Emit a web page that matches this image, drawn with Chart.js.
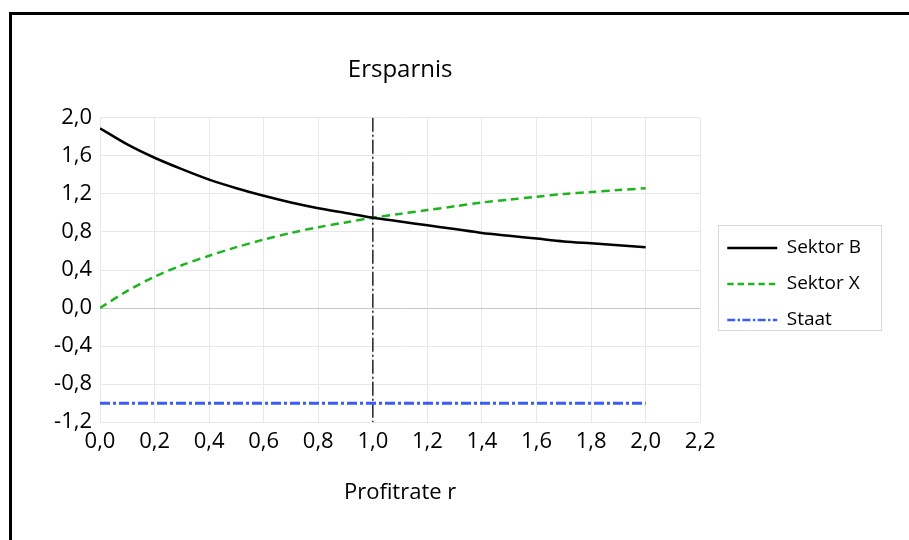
<!DOCTYPE html>
<html>
<head>
<meta charset="utf-8">
<script src="https://cdn.jsdelivr.net/npm/chart.js@4/dist/chart.umd.min.js"></script>
<style>
  html, body { margin: 0; padding: 0; background: #fff; }
  #wrap { width: 909px; height: 540px; position: relative; }
</style>
</head>
<body>
<div id="wrap"><canvas id="erspChart"></canvas></div>
<script>
// Profitrate r (x values)
const rates = [0.0, 0.1, 0.2, 0.3, 0.4, 0.5, 0.6, 0.7, 0.8, 0.9, 1.0,
               1.1, 1.2, 1.3, 1.4, 1.5, 1.6, 1.7, 1.8, 1.9, 2.0];
const sektorB = [1.89, 1.72, 1.58, 1.46, 1.35, 1.26, 1.18, 1.11, 1.05, 1.00, 0.95,
                 0.91, 0.87, 0.83, 0.79, 0.76, 0.73, 0.70, 0.68, 0.66, 0.64];
const sektorX = [0.00, 0.18, 0.33, 0.45, 0.55, 0.64, 0.72, 0.79, 0.85, 0.90, 0.95,
                 0.99, 1.03, 1.07, 1.11, 1.14, 1.17, 1.20, 1.22, 1.24, 1.26];
const staat = [-1.0, -1.0, -1.0, -1.0, -1.0, -1.0, -1.0, -1.0, -1.0, -1.0, -1.0,
               -1.0, -1.0, -1.0, -1.0, -1.0, -1.0, -1.0, -1.0, -1.0, -1.0];
// vertical marker at r = 1
const markerX = [1.0, 1.0];
const markerY = [2.0, -1.2];

const pts = (xs, ys) => xs.map((x, i) => ({ x: x, y: ys[i] }));
const fmt = v => v.toFixed(1).replace('.', ',');
const FONT = "'Open Sans', sans-serif";

// frame + legend box + legend shift
const decor = {
  id: 'decor',
  afterLayout(chart) {
    const lg = chart.legend;
    lg.left += 10; lg.right += 10;
    lg.top += 3; lg.bottom += 3;
  },
  afterDraw(chart) {
    const ctx = chart.ctx;
    ctx.save();
    ctx.strokeStyle = '#d9d9d9';
    ctx.lineWidth = 1;
    ctx.strokeRect(718.5, 225.5, 163, 105);
    ctx.strokeStyle = '#000';
    ctx.lineWidth = 3;
    ctx.beginPath();
    ctx.moveTo(10.5, 540);
    ctx.lineTo(10.5, 13.5);
    ctx.lineTo(909, 13.5);
    ctx.stroke();
    ctx.restore();
  }
};

const baseLabels = Chart.defaults.plugins.legend.labels.generateLabels;

new Chart(document.getElementById('erspChart'), {
  type: 'line',
  data: {
    datasets: [
      {
        label: 'Sektor B',
        data: pts(rates, sektorB),
        borderColor: '#000000',
        borderWidth: 2.5,
        pointRadius: 0,
        tension: 0.3
      },
      {
        label: 'Sektor X',
        data: pts(rates, sektorX),
        borderColor: '#1fb41f',
        borderWidth: 2.5,
        borderDash: [8, 5],
        pointRadius: 0,
        tension: 0.3
      },
      {
        label: 'Staat',
        data: pts(rates, staat),
        borderColor: '#3a5cf5',
        borderWidth: 3,
        borderDash: [10, 3, 3, 3],
        pointRadius: 0
      },
      {
        label: 'marker',
        data: pts(markerX, markerY),
        borderColor: '#222222',
        borderWidth: 1.5,
        borderDash: [14, 3, 2, 3],
        pointRadius: 0
      }
    ]
  },
  options: {
    responsive: true,
    maintainAspectRatio: false,
    animation: false,
    layout: { padding: { top: 56, left: 10, right: 48, bottom: 34 } },
    plugins: {
      title: {
        display: true,
        text: 'Ersparnis',
        fullSize: false,
        color: '#000',
        font: { family: FONT, size: 24, weight: 'normal' },
        padding: { top: 0, bottom: 33 }
      },
      legend: {
        position: 'right',
        labels: {
          usePointStyle: true,
          pointStyle: 'line',
          pointStyleWidth: 50,
          padding: 17,
          color: '#000',
          font: { family: FONT, size: 19 },
          filter: item => item.text !== 'marker',
          generateLabels: chart => baseLabels(chart).map(item => {
            const ds = chart.data.datasets[item.datasetIndex];
            item.lineDash = ds.borderDash ? ds.borderDash.map(d => d * 0.8) : [];
            item.lineWidth = 2.5;
            return item;
          })
        }
      },
      tooltip: { enabled: false }
    },
    scales: {
      x: {
        type: 'linear',
        min: 0,
        max: 2.2,
        ticks: {
          stepSize: 0.2,
          padding: 6,
          color: '#000',
          font: { family: FONT, size: 22 },
          callback: v => fmt(v)
        },
        grid: { color: '#e8e8e8', drawTicks: false },
        border: { display: false },
        title: {
          display: true,
          text: 'Profitrate r',
          color: '#000',
          font: { family: FONT, size: 22 },
          padding: { top: 19, bottom: 0 }
        }
      },
      y: {
        min: -1.2,
        max: 2.0,
        ticks: {
          stepSize: 0.4,
          padding: 8,
          color: '#000',
          font: { family: FONT, size: 22 },
          callback: v => fmt(v)
        },
        grid: {
          color: ctx => ctx.tick && Math.abs(ctx.tick.value) < 1e-9 ? '#c8c8c8' : '#e8e8e8',
          drawTicks: false
        },
        border: { display: false },
        afterFit: scale => { scale.width = 90; }
      }
    }
  },
  plugins: [decor]
});
</script>
</body>
</html>
